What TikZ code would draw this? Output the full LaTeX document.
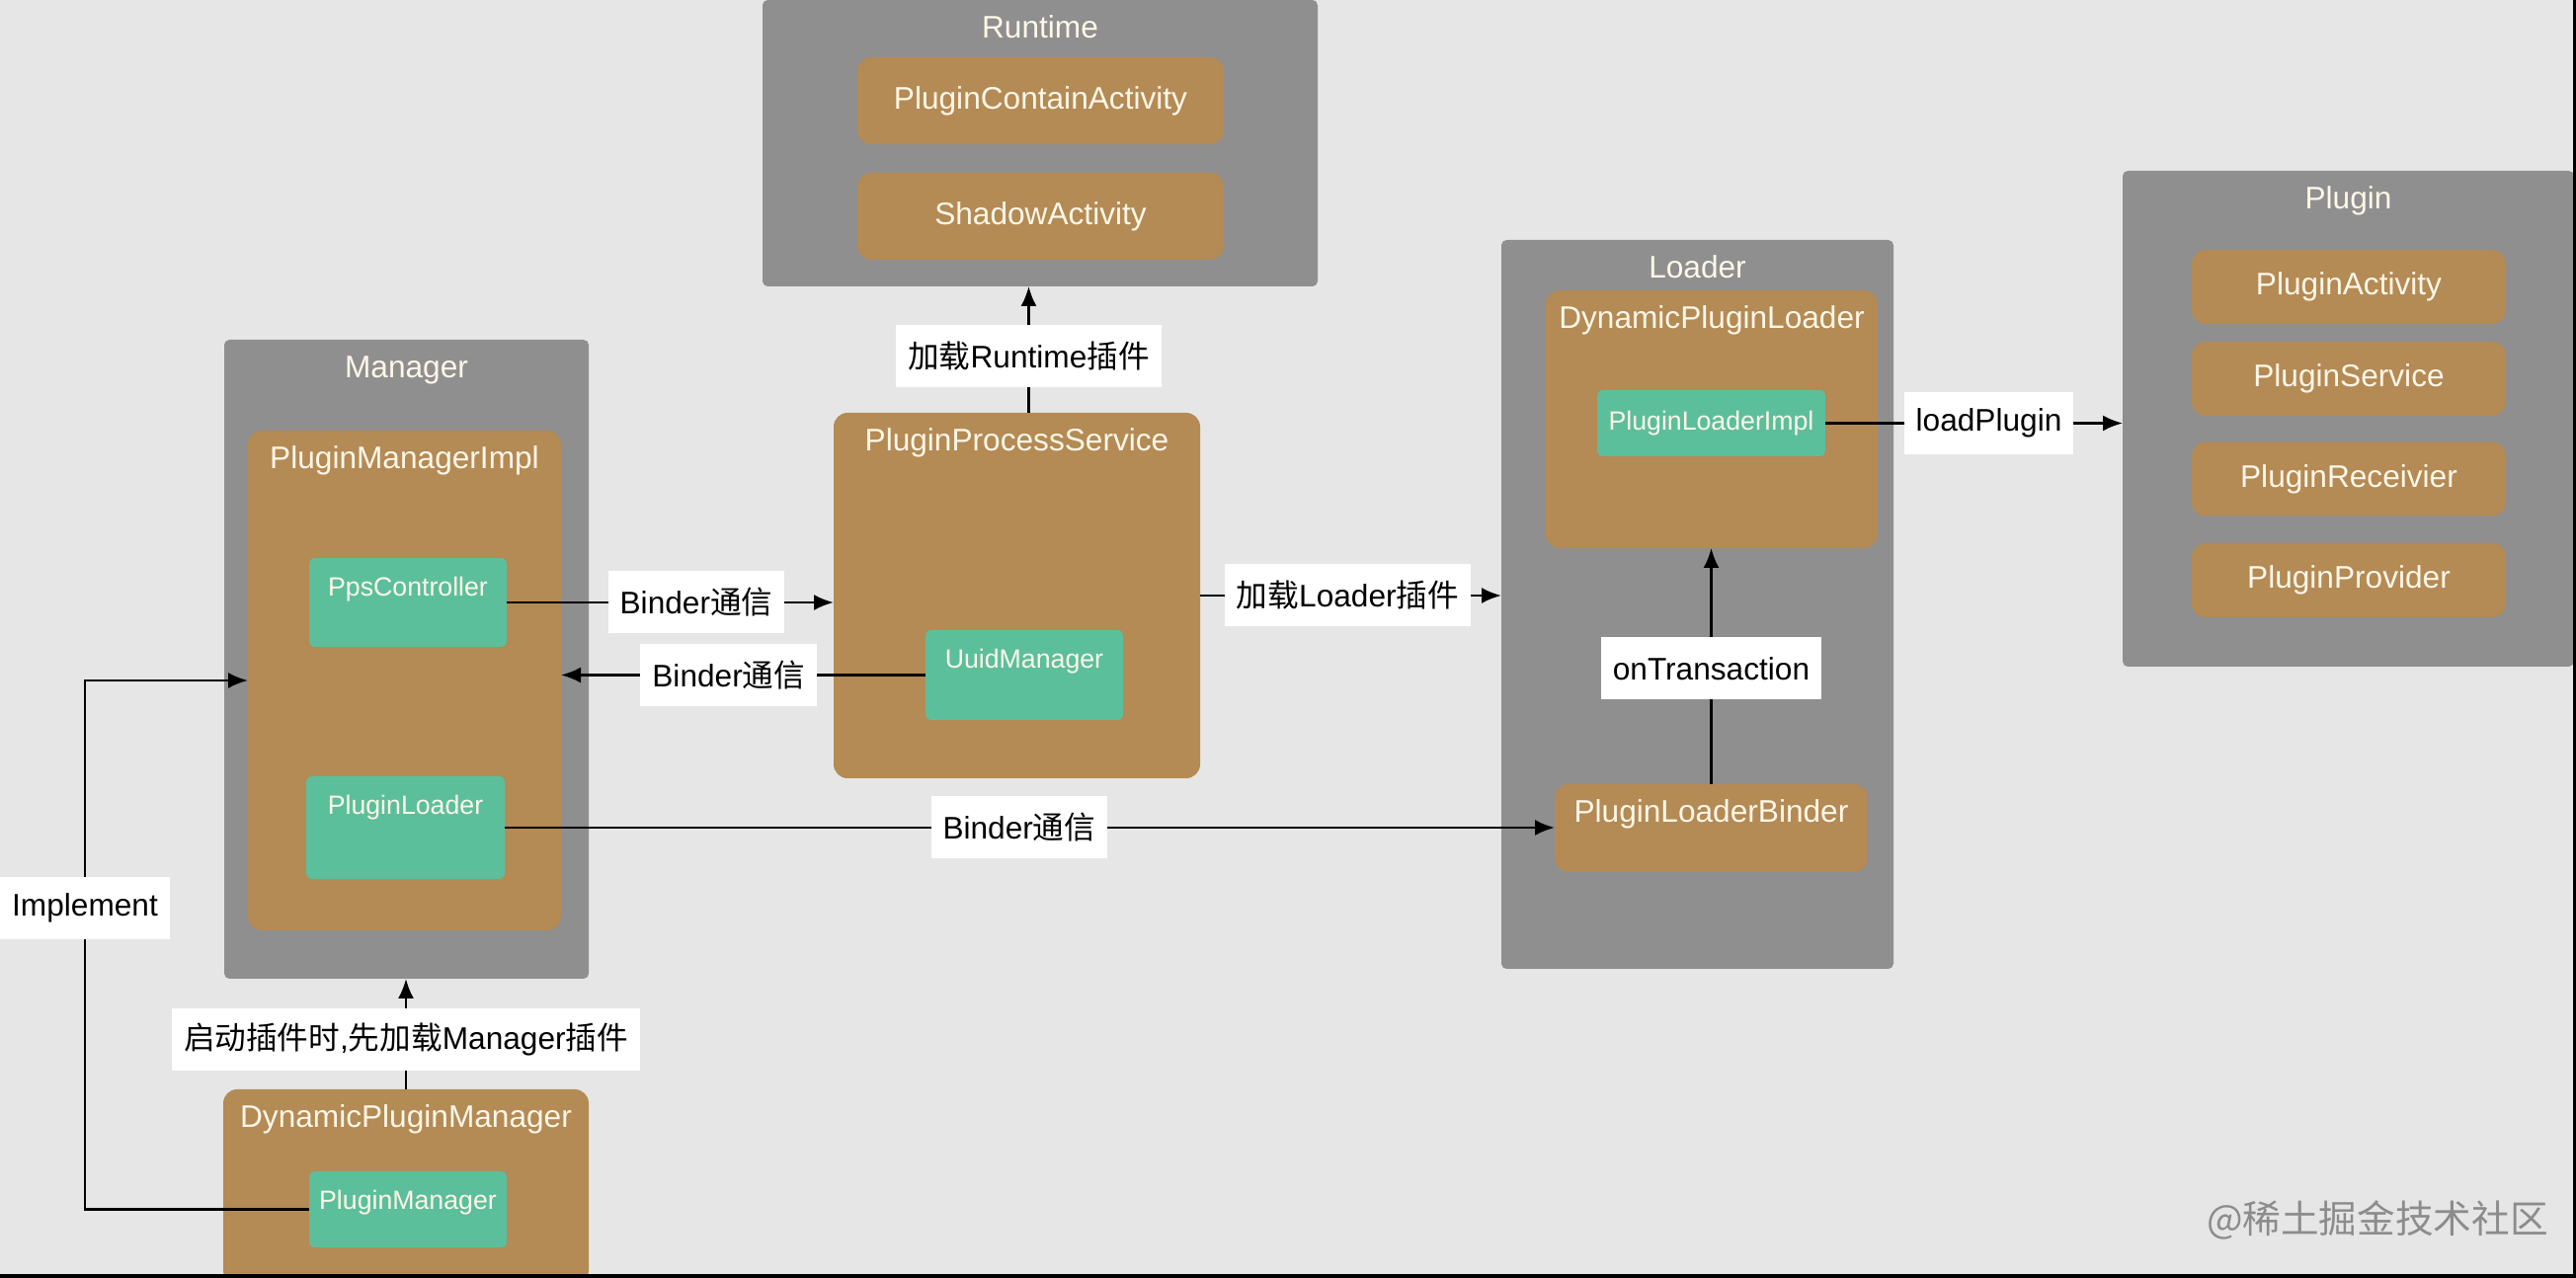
\documentclass[tikz,border=0pt]{standalone}
\usepackage{fontspec}
\setmainfont{Liberation Sans}
\newfontfamily\cjk{Noto Sans CJK SC}
\usetikzlibrary{arrows.meta,positioning}
\definecolor{bgcol}{HTML}{E6E6E6}
\definecolor{grpgray}{HTML}{8F8F8F}
\definecolor{clsbrown}{HTML}{B48A55}
\definecolor{impgreen}{HTML}{5CBF9C}
\definecolor{ttlcol}{HTML}{FFF7E8}
\definecolor{wmgray}{HTML}{8C8C8C}
\tikzset{
    every node/.style={font=\fontsize{9pt}{11pt}\selectfont},
    grp/.style={fill=grpgray, rounded corners=1.5pt, inner sep=0, outer sep=0},
    cls/.style={fill=clsbrown, rounded corners=4pt, inner sep=0, outer sep=0, text=ttlcol},
    impl/.style={fill=impgreen, rounded corners=1.5pt, inner sep=0, outer sep=0, text=ttlcol, font=\fontsize{7.6pt}{9pt}\selectfont},
    ttl/.style={text=ttlcol, anchor=center, yshift=-.28cm, inner sep=0, text height=1.6ex, text depth=.45ex},
    titled/.style={label={[ttl]north:#1}},
    ititled/.style={label={[ttl, font=\fontsize{7.6pt}{9pt}\selectfont]north:#1}},
    lbl/.style={fill=white, text=black, inner xsep=.12cm, inner ysep=0, minimum height=.63cm},
    arr/.style={-{Latex[length=2mm,width=1.6mm]}, line width=.7pt},
}

\begin{document}
\begin{tikzpicture}
    \path[use as bounding box, fill=bgcol] (0,0) rectangle (26.08,-12.94);

    % Runtime
    \node[grp, minimum width=5.62cm, minimum height=2.90cm, titled=Runtime] (rt) at (10.53,-1.45) {};
    \node[cls, minimum width=3.71cm, minimum height=.88cm] (pca) at (10.535,-1.02) {PluginContainActivity};
    \node[cls, minimum width=3.71cm, minimum height=.88cm] (sha) at (10.535,-2.19) {ShadowActivity};

    % Manager
    \node[grp, minimum width=3.69cm, minimum height=6.47cm, titled=Manager] (mgr) at (4.115,-6.675) {};
    \node[cls, minimum width=3.17cm, minimum height=5.06cm, titled=PluginManagerImpl] (pmi) at (4.095,-6.89) {};
    \node[impl, minimum width=2cm, minimum height=.9cm, ititled=PpsController] (ppsc) at (4.13,-6.10) {};
    \node[impl, minimum width=2.01cm, minimum height=1.04cm, ititled=PluginLoader] (pl) at (4.105,-8.38) {};

    \node[cls, minimum width=3.70cm, minimum height=1.97cm, titled=DynamicPluginManager] (dpm) at (4.11,-12.015) {};
    \node[impl, minimum width=2cm, minimum height=.77cm, ititled=PluginManager] (pm) at (4.13,-12.245) {};

    \node[cls, minimum width=3.71cm, minimum height=3.70cm, titled=PluginProcessService] (pps) at (10.295,-6.03) {};
    \node[impl, minimum width=2cm, minimum height=.91cm, ititled=UuidManager] (uuid) at (10.37,-6.835) {};

    % Loader
    \node[grp, minimum width=3.97cm, minimum height=7.38cm, titled=Loader] (ldr) at (17.185,-6.12) {};
    \node[cls, minimum width=3.36cm, minimum height=2.61cm, titled=DynamicPluginLoader] (dpl) at (17.33,-4.245) {};
    \node[impl, minimum width=2.31cm, minimum height=.67cm] (pli) at (17.325,-4.285) {PluginLoaderImpl};
    \node[cls, minimum width=3.17cm, minimum height=.89cm, titled=PluginLoaderBinder] (plb) at (17.325,-8.385) {};

    % Plugin
    \node[grp, minimum width=4.57cm, minimum height=5.02cm, titled=Plugin] (plg) at (23.775,-4.24) {};
    \foreach \n/\y/\t in {pa/-2.905/PluginActivity, ps/-3.835/PluginService, pr/-4.85/PluginReceivier, pp/-5.875/PluginProvider}{
        \node[cls, minimum width=3.18cm, minimum height=.75cm] (\n) at (23.78,\y) {\t};
    }

    \draw[arr] ([xshift=.12cm]pps.north) -- node[lbl, pos=.45] {{\cjk 加载}Runtime{\cjk 插件}} ([xshift=.12cm]pps.north |- rt.south);
    \draw[arr] (ppsc.east) -- node[lbl, pos=.58] {Binder{\cjk 通信}} (ppsc.east -| pps.west);
    \draw[arr] (uuid.west) -- node[lbl, pos=.54] {Binder{\cjk 通信}} (uuid.west -| pmi.east);
    \draw[arr] (pps.east) -- node[lbl, pos=.49] {{\cjk 加载}Loader{\cjk 插件}} (pps.east -| ldr.west);
    \draw[arr] (pl.east) -- node[lbl, pos=.49] {Binder{\cjk 通信}} (pl.east -| plb.west);
    \draw[arr] (plb.north) -- node[lbl, pos=.49] {onTransaction} (plb.north |- dpl.south);
    \draw[arr] (pli.east) -- node[lbl, pos=.55] {loadPlugin} (pli.east -| plg.west);
    \draw[arr] (dpm.north) -- node[lbl, pos=.45] {{\cjk 启动插件时},{\cjk 先加载}Manager{\cjk 插件}} (dpm.north |- mgr.south);
    \coordinate (impl) at ([xshift=-1.65cm]pmi.west);
    \draw[arr] (pm.west) -| node[lbl, pos=.785] {Implement} (impl) -- (pmi.west);

    \node[text=wmgray, font=\cjk\fontsize{11pt}{13pt}\selectfont] (wm) at (24.07,-12.35) {@稀土掘金技术社区};

    \fill[black] (26.05,0) rectangle (26.08,-12.94);
    \fill[black] (0,-12.90) rectangle (26.08,-12.94);
\end{tikzpicture}
\end{document}
